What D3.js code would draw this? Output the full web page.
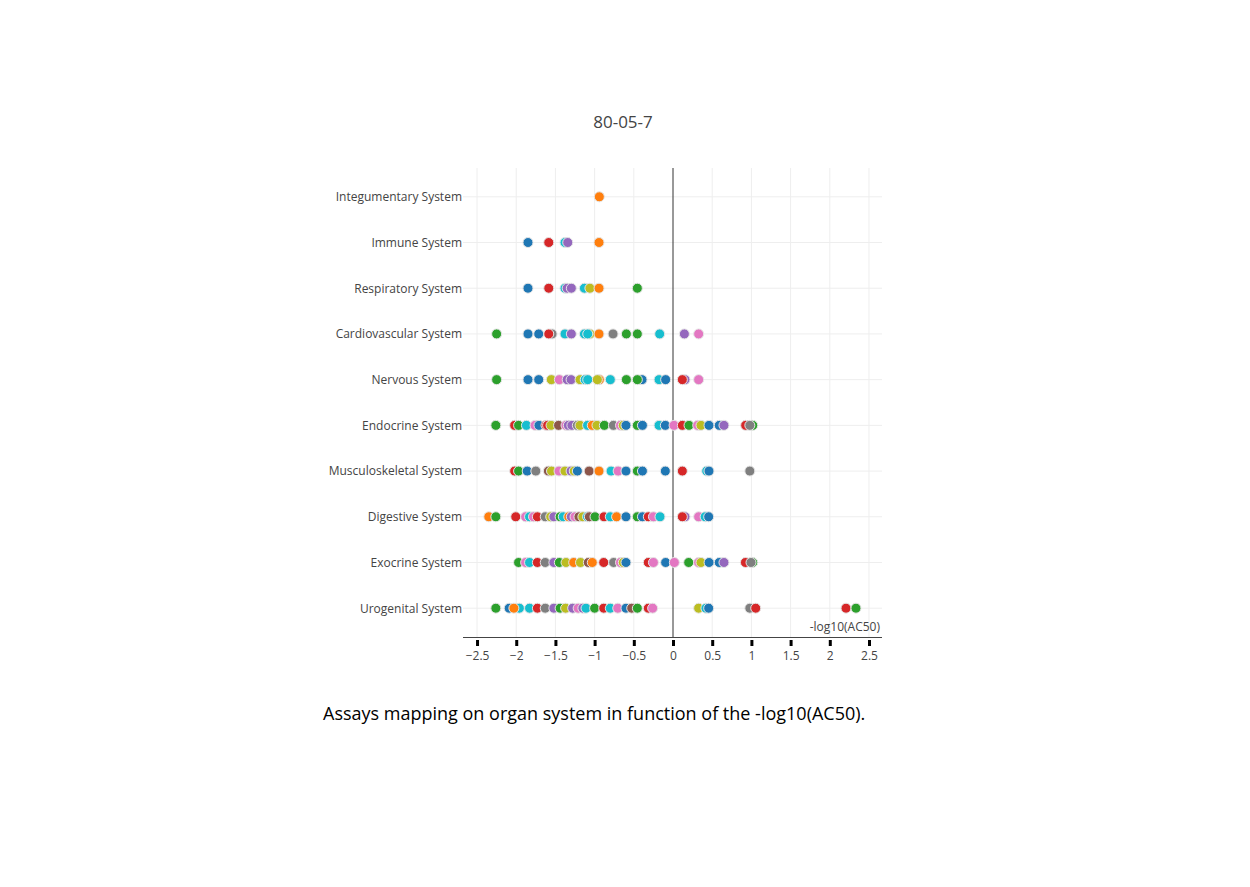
<!DOCTYPE html>
<html>
<head>
<meta charset="utf-8">
<script src="https://cdn.jsdelivr.net/npm/d3@7"></script>
<style>
  html, body { margin: 0; padding: 0; background: #fff; }
  svg { display: block; font-family: "Open Sans", sans-serif; }
</style>
</head>
<body>
<svg id="chart" width="1250" height="887"></svg>
<script>
// MARK: - Data

const title = '80-05-7';
const caption = 'Assays mapping on organ system in function of the -log10(AC50).';
const xLabel = '-log10(AC50)';

// organ systems, top to bottom
const organs = [
  'Integumentary System', 'Immune System', 'Respiratory System', 'Cardiovascular System',
  'Nervous System', 'Endocrine System', 'Musculoskeletal System', 'Digestive System',
  'Exocrine System', 'Urogenital System'
];

const xTicks = [-2.5, -2, -1.5, -1, -0.5, 0, 0.5, 1, 1.5, 2, 2.5];

// [-log10(AC50), colour key]
const integumentary = [[-0.94, 'O']];
const immune = [[-1.85, 'B'], [-1.585, 'R'], [-1.378, 'C'], [-1.343, 'P'], [-0.944, 'O']];
const respiratory = [
  [-1.85, 'B'], [-1.585, 'R'], [-1.378, 'C'], [-1.35, 'P'], [-1.297, 'P'], [-1.13, 'C'],
  [-1.06, 'L'], [-0.944, 'O'], [-0.455, 'G']
];
const cardiovascular = [
  [-2.25, 'G'], [-1.85, 'B'], [-1.713, 'B'], [-1.543, 'Y'], [-1.585, 'R'], [-1.378, 'C'],
  [-1.297, 'P'], [-1.13, 'C'], [-1.06, 'L'], [-1.088, 'C'], [-0.944, 'O'], [-0.765, 'Y'],
  [-0.595, 'G'], [-0.455, 'G'], [-0.17, 'C'], [0.145, 'P'], [0.327, 'K']
];
const nervous = [
  [-2.25, 'G'], [-1.85, 'B'], [-1.713, 'B'], [-1.552, 'L'], [-1.45, 'K'], [-1.35, 'P'],
  [-1.30, 'P'], [-1.186, 'L'], [-1.12, 'C'], [-1.088, 'C'], [-0.94, 'O'], [-0.965, 'L'],
  [-0.80, 'C'], [-0.595, 'G'], [-0.395, 'B'], [-0.455, 'G'], [-0.178, 'C'], [-0.094, 'B'],
  [0.153, 'P'], [0.119, 'R'], [0.327, 'K']
];
const endocrine = [
  [-2.26, 'G'], [-2.02, 'R'], [-1.97, 'G'], [-1.87, 'C'], [-1.76, 'K'], [-1.71, 'B'],
  [-1.62, 'R'], [-1.60, 'R'], [-1.556, 'L'], [-1.46, 'N'], [-1.365, 'K'], [-1.335, 'P'],
  [-1.29, 'P'], [-1.22, 'Y'], [-1.186, 'L'], [-1.09, 'C'], [-1.03, 'O'], [-0.97, 'L'],
  [-0.876, 'G'], [-0.76, 'Y'], [-0.67, 'K'], [-0.634, 'L'], [-0.60, 'B'], [-0.455, 'G'],
  [-0.39, 'B'], [-0.178, 'C'], [-0.098, 'B'], [0.013, 'K'], [0.119, 'R'], [0.204, 'G'],
  [0.315, 'K'], [0.357, 'L'], [0.459, 'B'], [0.59, 'B'], [0.65, 'P'], [0.927, 'R'],
  [1.017, 'G'], [0.98, 'Y']
];
const musculoskeletal = [
  [-2.02, 'R'], [-1.97, 'G'], [-1.86, 'B'], [-1.75, 'Y'], [-1.59, 'N'], [-1.55, 'L'],
  [-1.454, 'K'], [-1.378, 'L'], [-1.30, 'P'], [-1.26, 'L'], [-1.22, 'B'], [-1.07, 'N'],
  [-0.944, 'O'], [-0.79, 'C'], [-0.70, 'K'], [-0.60, 'B'], [-0.455, 'G'], [-0.39, 'B'],
  [-0.098, 'B'], [0.119, 'R'], [0.43, 'C'], [0.459, 'B'], [0.98, 'Y']
];
const digestive = [
  [-2.35, 'O'], [-2.26, 'G'], [-2.006, 'R'], [-1.88, 'K'], [-1.83, 'C'], [-1.78, 'K'],
  [-1.73, 'R'], [-1.63, 'Y'], [-1.56, 'L'], [-1.52, 'P'], [-1.44, 'G'], [-1.40, 'C'],
  [-1.33, 'O'], [-1.297, 'P'], [-1.25, 'K'], [-1.20, 'N'], [-1.15, 'L'], [-1.09, 'C'],
  [-1.067, 'N'], [-0.995, 'G'], [-0.88, 'R'], [-0.80, 'C'], [-0.72, 'O'], [-0.60, 'B'],
  [-0.455, 'G'], [-0.39, 'B'], [-0.315, 'R'], [-0.25, 'K'], [-0.166, 'C'], [0.153, 'P'],
  [0.119, 'R'], [0.327, 'K'], [0.41, 'C'], [0.455, 'B']
];
const exocrine = [
  [-1.97, 'G'], [-1.88, 'K'], [-1.83, 'C'], [-1.73, 'R'], [-1.63, 'Y'], [-1.52, 'P'],
  [-1.45, 'G'], [-1.365, 'L'], [-1.267, 'O'], [-1.18, 'L'], [-1.08, 'N'], [-1.03, 'O'],
  [-0.884, 'R'], [-0.757, 'Y'], [-0.67, 'K'], [-0.634, 'L'], [-0.60, 'B'], [-0.315, 'R'],
  [-0.25, 'K'], [-0.094, 'B'], [0.017, 'K'], [0.2, 'G'], [0.327, 'K'], [0.357, 'L'],
  [0.46, 'B'], [0.59, 'B'], [0.65, 'P'], [0.924, 'R'], [1.017, 'G'], [0.995, 'Y']
];
const urogenital = [
  [-2.26, 'G'], [-2.09, 'B'], [-1.96, 'C'], [-2.03, 'O'], [-1.83, 'C'], [-1.73, 'R'],
  [-1.63, 'Y'], [-1.52, 'P'], [-1.44, 'G'], [-1.37, 'L'], [-1.28, 'P'], [-1.21, 'K'],
  [-1.15, 'P'], [-1.11, 'C'], [-1.0, 'G'], [-0.884, 'R'], [-0.80, 'C'], [-0.705, 'K'],
  [-0.60, 'B'], [-0.527, 'N'], [-0.455, 'G'], [-0.315, 'R'], [-0.26, 'K'], [0.327, 'L'],
  [0.42, 'C'], [0.455, 'B'], [0.98, 'Y'], [1.055, 'R'], [2.207, 'R'], [2.334, 'G']
];

const seriesByOrgan = [
  integumentary, immune, respiratory, cardiovascular, nervous,
  endocrine, musculoskeletal, digestive, exocrine, urogenital
];

const colors = {
  B: '#1f77b4', O: '#ff7f0e', G: '#2ca02c', R: '#d62728', P: '#9467bd',
  N: '#8c564b', K: '#e377c2', Y: '#7f7f7f', L: '#bcbd22', C: '#17becf'
};

// MARK: - Layout

const plot = {left: 463, right: 882, top: 168, bottom: 637};

const svg = d3.select('#chart');

const x = d3.scaleLinear()
  .domain([-2.679, 2.666])
  .range([plot.left, plot.right]);

const y = d3.scalePoint()
  .domain(organs)
  .range([plot.top, plot.bottom])
  .padding(0.63);

// grid
const grid = svg.append('g').attr('class', 'grid');
grid.selectAll('line.vx')
  .data(xTicks.filter(d => d !== 0))
  .join('line')
  .attr('x1', d => x(d)).attr('x2', d => x(d))
  .attr('y1', plot.top).attr('y2', plot.bottom)
  .attr('stroke', '#eee').attr('stroke-width', 1);
grid.selectAll('line.hy')
  .data(organs)
  .join('line')
  .attr('x1', plot.left).attr('x2', plot.right)
  .attr('y1', d => y(d)).attr('y2', d => y(d))
  .attr('stroke', '#eee').attr('stroke-width', 1);

// zero line
svg.append('line')
  .attr('x1', x(0)).attr('x2', x(0))
  .attr('y1', plot.top).attr('y2', plot.bottom)
  .attr('stroke', '#333').attr('stroke-width', 1);

// x axis
const xAxis = d3.axisBottom(x)
  .tickValues(xTicks)
  .tickSize(6)
  .tickPadding(5)
  .tickFormat(d => d3.format('')(d).replace('-', '\u2212'));

const gx = svg.append('g')
  .attr('transform', `translate(0,${plot.bottom + 3})`)
  .call(xAxis);
gx.select('.domain').remove();
gx.selectAll('.tick line').attr('stroke', '#000').attr('stroke-width', 3);
gx.selectAll('.tick text')
  .attr('fill', '#444')
  .style('font-family', '"Open Sans", sans-serif')
  .style('font-size', '12px');

svg.append('line')
  .attr('x1', plot.left).attr('x2', plot.right)
  .attr('y1', plot.bottom + 0.5).attr('y2', plot.bottom + 0.5)
  .attr('stroke', '#444').attr('stroke-width', 1);

// y labels
const yAxis = d3.axisLeft(y).tickSize(0).tickPadding(0);
const gy = svg.append('g')
  .attr('transform', `translate(${plot.left - 1},0)`)
  .call(yAxis);
gy.select('.domain').remove();
gy.selectAll('.tick text')
  .attr('fill', '#444')
  .style('font-family', '"Open Sans", sans-serif')
  .style('font-size', '12px');

// points
const points = organs.flatMap((organ, i) =>
  seriesByOrgan[i].map(([value, key]) => ({organ, value, key})));

svg.append('g').attr('class', 'points')
  .selectAll('circle')
  .data(points)
  .join('circle')
  .attr('cx', d => x(d.value))
  .attr('cy', d => y(d.organ))
  .attr('r', 5)
  .attr('fill', d => colors[d.key])
  .attr('stroke', '#e6e6e6')
  .attr('stroke-width', 1);

// texts
svg.append('text')
  .attr('x', plot.right - 2).attr('y', plot.bottom - 6)
  .attr('text-anchor', 'end')
  .attr('fill', '#444')
  .style('font-size', '12px')
  .text(xLabel);

svg.append('text')
  .attr('x', 623).attr('y', 128)
  .attr('text-anchor', 'middle')
  .attr('fill', '#444')
  .style('font-size', '17px')
  .text(title);

svg.append('text')
  .attr('x', 323).attr('y', 720)
  .attr('fill', '#000')
  .style('font-size', '18px')
  .text(caption);
</script>
</body>
</html>
